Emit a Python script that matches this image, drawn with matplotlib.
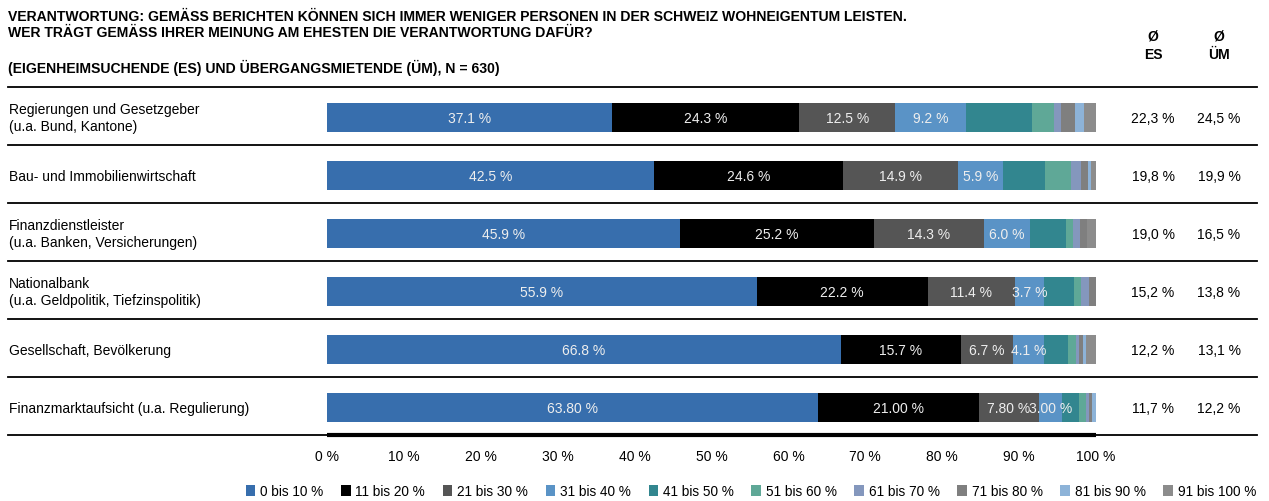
import matplotlib
matplotlib.use("Agg")
import matplotlib.pyplot as plt
from matplotlib.lines import Line2D
from matplotlib.patches import Patch
import numpy as np

plt.rcParams['font.family'] = ['Liberation Sans', 'DejaVu Sans']

categories = [
    "Regierungen und Gesetzgeber\n(u.a. Bund, Kantone)",
    "Bau- und Immobilienwirtschaft",
    "Finanzdienstleister\n(u.a. Banken, Versicherungen)",
    "Nationalbank\n(u.a. Geldpolitik, Tiefzinspolitik)",
    "Gesellschaft, Bevölkerung",
    "Finanzmarktaufsicht (u.a. Regulierung)",
]
series_names = ["0 bis 10 %", "11 bis 20 %", "21 bis 30 %", "31 bis 40 %", "41 bis 50 %",
                "51 bis 60 %", "61 bis 70 %", "71 bis 80 %", "81 bis 90 %", "91 bis 100 %"]
# values per category (rows) across the 10 series
s0_10 = [37.1, 42.5, 45.9, 55.9, 66.8, 63.8]
s11_20 = [24.3, 24.6, 25.2, 22.2, 15.7, 21.0]
s21_30 = [12.5, 14.9, 14.3, 11.4, 6.7, 7.8]
s31_40 = [9.2, 5.9, 6.0, 3.7, 4.1, 3.0]
s41_50 = [8.6, 5.5, 4.7, 4.0, 3.1, 2.2]
s51_60 = [2.9, 3.3, 0.9, 0.9, 1.0, 0.9]
s61_70 = [0.8, 1.3, 0.9, 1.0, 0.4, 0.4]
s71_80 = [1.9, 0.9, 0.9, 0.9, 0.5, 0.4]
s81_90 = [1.1, 0.5, 0.0, 0.0, 0.4, 0.5]
s91_100 = [1.6, 0.6, 1.2, 0.0, 1.3, 0.0]
label_decimals = [1, 1, 1, 1, 1, 2]
avg_es = ["22,3 %", "19,8 %", "19,0 %", "15,2 %", "12,2 %", "11,7 %"]
avg_um = ["24,5 %", "19,9 %", "16,5 %", "13,8 %", "13,1 %", "12,2 %"]
x_ticks = [0, 10, 20, 30, 40, 50, 60, 70, 80, 90, 100]

series = [s0_10, s11_20, s21_30, s31_40, s41_50, s51_60, s61_70, s71_80, s81_90, s91_100]
colors = ['#376EAD', '#000000', '#555555', '#5A93C6', '#32868F',
          '#5FA897', '#8497BD', '#7F7F7F', '#8DB3D8', '#8C8C8C']
labeled_series = 4

W, H = 1269, 502
fig = plt.figure(figsize=(W / 100, H / 100), dpi=100)

def fx(px):
    return px / W

def fy(py):
    return 1 - py / H

ax_left, ax_right, ax_top, ax_bottom = 327, 1096, 88, 436
ax = fig.add_axes([fx(ax_left), fy(ax_bottom), fx(ax_right - ax_left), (ax_bottom - ax_top) / H])
ax.patch.set_visible(False)
n = len(categories)
ypos = np.arange(n) + 0.53
left = np.zeros(n)
for k, (vals, col) in enumerate(zip(series, colors)):
    vals = np.array(vals)
    ax.barh(ypos, vals, left=left, height=0.5, color=col, edgecolor='none')
    if k < labeled_series:
        for i, v in enumerate(vals):
            ax.text(left[i] + v / 2, ypos[i], f"{v:.{label_decimals[i]}f} %",
                    ha='center', va='center', color='#EEEEEE', fontsize=10)
    left += vals

ax.set_xlim(0, 100)
ax.set_ylim(n, 0)
ax.set_xticks(x_ticks)
ax.set_xticklabels([f"{t} %" for t in x_ticks], fontsize=10)
ax.tick_params(axis='x', length=0, pad=10)
ax.set_yticks([])
for sp in ['top', 'right', 'left']:
    ax.spines[sp].set_visible(False)
ax.spines['bottom'].set_linewidth(3)
ax.spines['bottom'].set_color('black')
ax.spines['bottom'].set_capstyle('butt')
ax.spines['bottom'].set_zorder(3)

# separator lines
for yy in np.arange(n + 1):
    ypx = ax_top + yy * (ax_bottom - ax_top) / n
    fig.add_artist(Line2D([fx(8), fx(1257)], [fy(ypx), fy(ypx)], color='black', lw=1.3,
                          transform=fig.transFigure, zorder=-1))

# category labels and averages
for i, cat in enumerate(categories):
    ypx = ax_top + (i + 0.53) * (ax_bottom - ax_top) / n
    fig.text(fx(9), fy(ypx), cat, ha='left', va='center', fontsize=10, linespacing=1.3)
    fig.text(fx(1153), fy(ypx), avg_es[i], ha='center', va='center', fontsize=10)
    fig.text(fx(1219), fy(ypx), avg_um[i], ha='center', va='center', fontsize=10)

fig.text(fx(1153), fy(46), "Ø\nES", ha='center', va='center', fontsize=10,
         fontweight='bold', linespacing=1.45)
fig.text(fx(1219), fy(46), "Ø\nÜM", ha='center', va='center', fontsize=10,
         fontweight='bold', linespacing=1.45)

fig.text(fx(8), fy(17), "VERANTWORTUNG: GEMÄSS BERICHTEN KÖNNEN SICH IMMER WENIGER PERSONEN IN DER SCHWEIZ WOHNEIGENTUM LEISTEN.",
         ha='left', va='center', fontsize=10.1, fontweight='bold')
fig.text(fx(8), fy(33), "WER TRÄGT GEMÄSS IHRER MEINUNG AM EHESTEN DIE VERANTWORTUNG DAFÜR?",
         ha='left', va='center', fontsize=10.1, fontweight='bold')
fig.text(fx(8), fy(68), "(EIGENHEIMSUCHENDE (ES) UND ÜBERGANGSMIETENDE (ÜM), N = 630)",
         ha='left', va='center', fontsize=10.1, fontweight='bold')

handles = [Patch(facecolor=c, edgecolor='none') for c in colors]
leg = fig.legend(handles, series_names, loc='center', bbox_to_anchor=(fx(751), fy(492)),
                 ncol=10, frameon=False, handlelength=0.7, handleheight=0.9,
                 handletextpad=0.35, columnspacing=1.3,
                 prop={'size': 9.8})

fig.savefig("out.png", dpi=100)
